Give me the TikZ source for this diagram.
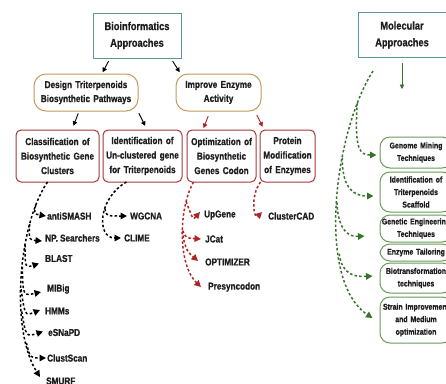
\documentclass[tikz,border=0pt]{standalone}
\usepackage{fontspec}
\setmainfont{Liberation Sans}[FakeStretch=0.82, BoldFont={Liberation Sans Bold}, BoldFeatures={FakeBold=0.8}]
\usetikzlibrary{arrows.meta}
\definecolor{bxteal}{RGB}{88,150,155}
\definecolor{bxtan}{RGB}{195,155,95}
\definecolor{bxred}{RGB}{165,55,55}
\definecolor{arred}{RGB}{175,35,35}
\definecolor{bxgreen}{RGB}{105,155,90}
\definecolor{argreen}{RGB}{55,115,45}
\definecolor{txtc}{RGB}{30,30,30}
\tikzset{
  titlebox/.style={draw=bxteal, line width=1pt, text width=86, minimum height=45, align=center, inner sep=1pt, text=txtc, font=\bfseries\fontsize{11.3}{16.7}\selectfont},
  tanbox/.style={draw=bxtan, line width=1pt, rounded corners=12, minimum height=37, align=center, inner sep=1pt, text=txtc, font=\bfseries\fontsize{10}{14}\selectfont},
  redbox/.style={draw=bxred, line width=1pt, rounded corners=5, minimum height=52, align=center, inner sep=1pt, text=txtc, font=\bfseries\fontsize{10}{14.5}\selectfont},
  greenbox/.style={draw=bxgreen, line width=1pt, rounded corners=10, text width=70, align=center, inner sep=1pt, text=txtc, font=\bfseries\fontsize{8.45}{12.5}\selectfont},
  tool/.style={anchor=west, inner sep=0pt, text=txtc, font=\bfseries\fontsize{10}{12}\selectfont},
  solarr/.style={line width=0.9pt, -{Triangle[length=4.5pt,width=4.5pt]}},
  dasharr/.style={line width=1.5pt, dash pattern=on 2.5pt off 2.2pt, -{Triangle[length=6.5pt,width=6.5pt]}},
}
\begin{document}
\begin{tikzpicture}[x=1pt,y=-1pt]
\useasboundingbox (0,0) rectangle (446,383);
\fill[white] (0,0) rectangle (446,383);
% top boxes
\node[titlebox] (bio) at (137,35.5) {Bioinformatics\\Approaches};
\node[titlebox] (mol) at (402,35) {Molecular\\Approaches};
\node[tanbox, text width=102] (design) at (86,92.5) {Design Triterpenoids\\Biosynthetic Pathways};
\node[tanbox, text width=83] (improve) at (218.5,92.5) {Improve Enzyme\\Activity};
% third row
\node[redbox, text width=81] (cls) at (57.5,156) {Classification of\\Biosynthetic Gene\\Clusters};
\node[redbox, text width=77] (ident) at (142.5,156) {Identification of\\Un-clustered gene\\for Triterpenoids};
\node[redbox, text width=67] (opt) at (221.5,156) {Optimization of\\Biosynthetic\\Genes Codon};
\node[redbox, text width=53] (prot) at (287.5,156) {Protein\\Modification\\of Enzymes};
% green boxes
\node[greenbox, minimum height=31] (genome) at (416,152.5) {Genome Mining\\Techniques};
\node[greenbox, minimum height=40] (gident) at (416,192) {Identification of\\Triterpenoids\\Scaffold};
\node[greenbox, minimum height=27] (genetic) at (416,228.5) {Genetic Engineering\\Techniques};
\node[greenbox, minimum height=17] (tailor) at (416,252.5) {Enzyme Tailoring};
\node[greenbox, minimum height=30] (biotrans) at (416,278) {Biotransformation\\techniques};
\node[greenbox, minimum height=46] (strain) at (416,320) {Strain Improvement\\and Medium\\optimization};
% tool labels
\node[tool] (antismash) at (47,216) {antiSMASH};
\node[tool] (npsearch) at (45,238) {NP. Searchers};
\node[tool] (blast) at (45,258.5) {BLAST};
\node[tool] (mibig) at (47,289) {MIBig};
\node[tool] (hmms) at (45,311) {HMMs};
\node[tool] (esnapd) at (48,332.5) {eSNaPD};
\node[tool] (clustscan) at (47,358) {ClustScan};
\node[tool] (smurf) at (46,381) {SMURF};
\node[tool] (wgcna) at (130,216) {WGCNA};
\node[tool] (clime) at (124,238) {CLIME};
\node[tool] (upgene) at (204,215) {UpGene};
\node[tool] (jcat) at (205,239) {JCat};
\node[tool] (optim) at (205,262) {OPTIMIZER};
\node[tool] (presy) at (208,287) {Presyncodon};
\node[tool] (ccad) at (268,216) {ClusterCAD};
% solid arrows
\draw[solarr, shorten <=3pt, shorten >=1.5pt] ([xshift=-27pt]bio.south) -- ([xshift=16pt]design.north);
\draw[solarr, shorten <=3pt, shorten >=1.5pt] ([xshift=34pt]bio.south) -- ([xshift=-38pt]improve.north);
\draw[solarr, shorten <=2pt, shorten >=4pt] ([xshift=-7pt]design.south) -- ([xshift=14.5pt]cls.north);
\draw[solarr, shorten <=2pt, shorten >=4pt] ([xshift=52pt]design.south) -- ([xshift=4.5pt]ident.north);
\draw[solarr, draw=arred, shorten <=5pt, shorten >=1.5pt] ([xshift=-8.5pt]improve.south) -- ([xshift=-18.5pt]opt.north);
\draw[solarr, draw=arred, shorten <=4pt, shorten >=3pt] ([xshift=36.5pt]improve.south) -- ([xshift=-23.5pt]prot.north);
\coordinate (molend) at (402,89);
\draw[solarr, draw=argreen, shorten <=5pt] (mol.south) -- (molend);
% black dashed: trunk to SMURF with branches
\coordinate (cs) at (47.5,182);
\draw[dasharr] (cs) .. controls (18,225) and (10,330) .. ([shift={(-6,-4)}]smurf.west)
  coordinate[pos=0.15] (b1) coordinate[pos=0.25] (b2) coordinate[pos=0.35] (b3)
  coordinate[pos=0.45] (b4) coordinate[pos=0.55] (b5) coordinate[pos=0.65] (b6) coordinate[pos=0.8] (b7);
\draw[dasharr] (b1) .. controls (34,214) .. ([xshift=-1pt]antismash.west);
\draw[dasharr] (b2) .. controls (29,240) .. ([shift={(-3,3)}]npsearch.west);
\draw[dasharr] (b3) .. controls (25,268) .. ([shift={(-6,5)}]blast.west);
\draw[dasharr] (b4) .. controls (23,296) .. ([shift={(-6,3)}]mibig.west);
\draw[dasharr] (b5) .. controls (25,316) .. ([shift={(-5,-1)}]hmms.west);
\draw[dasharr] (b6) .. controls (26,337) .. ([shift={(-5,-1)}]esnapd.west);
\draw[dasharr] (b7) .. controls (30,358) .. ([xshift=-1pt]clustscan.west);
% identification branch
\coordinate (is) at (126.5,182);
\draw[dasharr] (is) .. controls (98,198) and (96,238) .. ([xshift=-3pt]clime.west) coordinate[pos=0.4] (i1);
\draw[dasharr] (i1) .. controls (106,216) .. ([xshift=-3pt]wgcna.west);
% red dashed
\coordinate (os) at (193.5,182);
\draw[dasharr, draw=arred] (os) .. controls (178,210) and (178,265) .. ([shift={(-7,0)}]presy.west)
  coordinate[pos=0.2] (r1) coordinate[pos=0.45] (r2);
\draw[dasharr, draw=arred] (r1) .. controls (193,220) .. ([shift={(-4,-3)}]upgene.west);
\draw[dasharr, draw=arred] (r2) .. controls (186,238) .. ([xshift=-4pt]jcat.west);
\draw[dasharr, draw=arred] (r2) .. controls (184,250) and (190,254) .. ([shift={(-7,-1)}]optim.west);
\coordinate (ps) at (260.5,182);
\draw[dasharr, draw=arred] (ps) .. controls (250,196) and (254,220) .. ([shift={(-6,-4)}]ccad.west);
% green dashed
\coordinate (gs) at (373,71);
\draw[dasharr, draw=argreen] (gs) .. controls (335,130) and (315,280) .. ([shift={(-7,-2)}]strain.west)
  coordinate[pos=0.15] (g1) coordinate[pos=0.35] (g2) coordinate[pos=0.5] (g3) coordinate[pos=0.68] (g4);
\draw[dasharr, draw=argreen] (g1) .. controls (354,150) and (360,155) .. ([shift={(-3,2.5)}]genome.west);
\draw[dasharr, draw=argreen] (g2) .. controls (342,190) and (355,196) .. ([shift={(-6,4)}]gident.west);
\draw[dasharr, draw=argreen] (g3) .. controls (338,232) and (350,237) .. ([shift={(-15,7.5)}]genetic.west);
\draw[dasharr, draw=argreen] (g4) .. controls (342,275) and (355,277) .. ([shift={(-7,-2)}]biotrans.west);
\end{tikzpicture}
\end{document}
